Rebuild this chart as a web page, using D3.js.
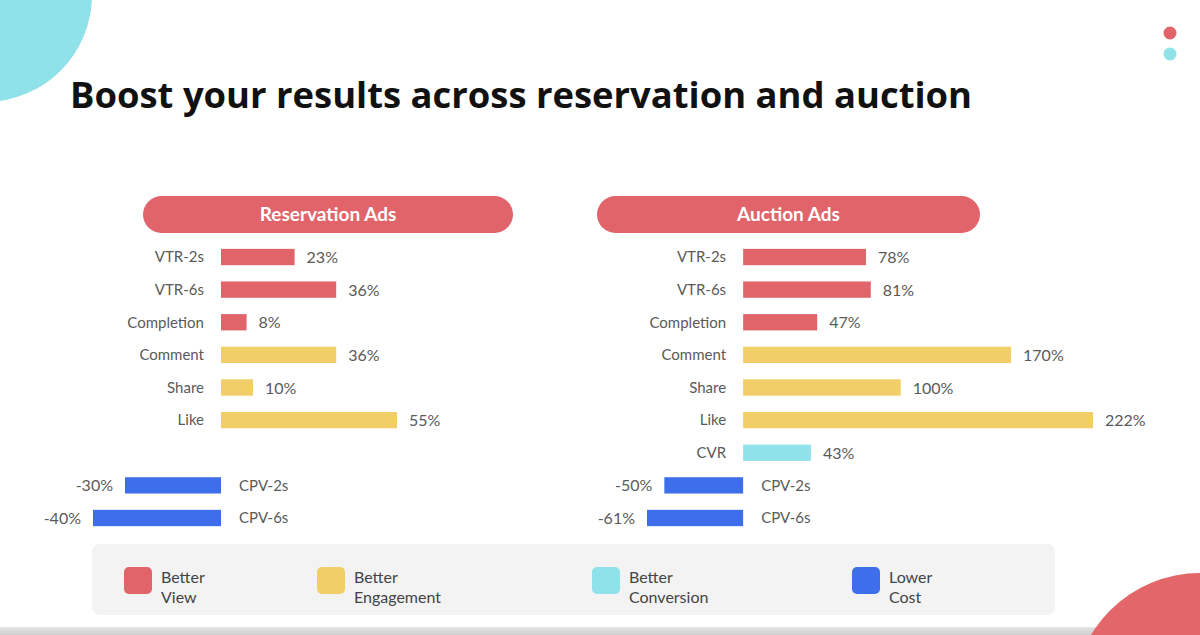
<!DOCTYPE html>
<html>
<head>
<meta charset="utf-8">
<script src="https://cdn.jsdelivr.net/npm/d3@7"></script>
<style>
  html, body { margin: 0; padding: 0; background: #ffffff; }
  svg { display: block; }
</style>
</head>
<body>
<svg id="chart" width="1200" height="635"></svg>
<script>
// ---- data ----
const categories = ["VTR-2s", "VTR-6s", "Completion", "Comment", "Share", "Like", "CVR", "CPV-2s", "CPV-6s"];
const categoryGroups = ["view", "view", "view", "engagement", "engagement", "engagement", "conversion", "cost", "cost"];
const reservationValues = [23, 36, 8, 36, 10, 55, null, -30, -40];
const auctionValues = [78, 81, 47, 170, 100, 222, 43, -50, -61];
const panelTitles = ["Reservation Ads", "Auction Ads"];
const legendKeys = ["view", "engagement", "conversion", "cost"];
const legendLine1 = ["Better", "Better", "Better", "Lower"];
const legendLine2 = ["View", "Engagement", "Conversion", "Cost"];
const titleText = "Boost your results across reservation and auction";

// ---- styles ----
const colors = { view: "#E0646A", engagement: "#F2CE68", conversion: "#8FE1EA", cost: "#3F6EEA" };
const labelFont = "Lato, 'Open Sans', sans-serif";

const svg = d3.select("#chart");

// decorative shapes
svg.append("circle").attr("cx", -15).attr("cy", -5).attr("r", 107).attr("fill", "#8FE1EA");
svg.append("circle").attr("cx", 1170).attr("cy", 33).attr("r", 6.5).attr("fill", "#E36468");
svg.append("circle").attr("cx", 1170).attr("cy", 54).attr("r", 6.5).attr("fill", "#8FE1EA");

// footer bar
const grad = svg.append("defs").append("linearGradient").attr("id", "foot").attr("x1", 0).attr("x2", 0).attr("y1", 0).attr("y2", 1);
grad.append("stop").attr("offset", "0%").attr("stop-color", "#e4e4e4");
grad.append("stop").attr("offset", "100%").attr("stop-color", "#cfcfcf");
svg.append("rect").attr("x", 0).attr("y", 627).attr("width", 1200).attr("height", 8).attr("fill", "url(#foot)");
svg.append("circle").attr("cx", 1200).attr("cy", 700).attr("r", 127).attr("fill", "#E3666A");

// title
const title = svg.append("text")
  .attr("x", 70).attr("y", 108)
  .attr("font-family", "'Open Sans', sans-serif")
  .attr("font-weight", 700)
  .attr("font-size", 35)
  .attr("fill", "#111")
  .text(titleText);
const tw = title.node().getComputedTextLength();
if (tw > 0) title.attr("textLength", 902).attr("lengthAdjust", "spacingAndGlyphs");

// y scale shared
const y = d3.scaleBand()
  .domain(categories)
  .range([240.7, 534.3])
  .paddingInner(0.5)
  .paddingOuter(0.25);

const panels = [
  { title: panelTitles[0], values: reservationValues,
    x: d3.scaleLinear().domain([-40, 55]).range([93, 397]),
    pill: [143, 513] },
  { title: panelTitles[1], values: auctionValues,
    x: d3.scaleLinear().domain([-61, 222]).range([647, 1093]),
    pill: [597, 980] }
];

const fmt = v => String(v) + "%";

panels.forEach(p => {
  const g = svg.append("g");
  // header pill
  g.append("rect")
    .attr("x", p.pill[0]).attr("y", 196)
    .attr("width", p.pill[1] - p.pill[0]).attr("height", 37)
    .attr("rx", 18.5).attr("fill", "#E0646A");
  g.append("text")
    .attr("x", (p.pill[0] + p.pill[1]) / 2).attr("y", 221)
    .attr("text-anchor", "middle")
    .attr("font-family", labelFont).attr("font-weight", 700)
    .attr("font-size", 19).attr("fill", "#fff")
    .text(p.title);

  const rows = categories.map((c, i) => ({ cat: c, group: categoryGroups[i], v: p.values[i] }))
    .filter(d => d.v !== null);
  const x0 = p.x(0);

  g.selectAll("rect.bar").data(rows).join("rect")
    .attr("class", "bar")
    .attr("x", d => Math.min(p.x(d.v), x0))
    .attr("width", d => Math.abs(p.x(d.v) - x0))
    .attr("y", d => y(d.cat))
    .attr("height", y.bandwidth())
    .attr("fill", d => colors[d.group]);

  g.selectAll("text.cat").data(rows).join("text")
    .attr("class", "cat")
    .attr("x", d => d.v >= 0 ? x0 - 17 : x0 + 18)
    .attr("y", d => y(d.cat) + y.bandwidth() / 2)
    .attr("dy", "0.35em")
    .attr("text-anchor", d => d.v >= 0 ? "end" : "start")
    .attr("font-family", labelFont).attr("font-size", 15)
    .attr("fill", "#5a5a5a")
    .text(d => d.cat);

  g.selectAll("text.val").data(rows).join("text")
    .attr("class", "val")
    .attr("x", d => d.v >= 0 ? p.x(d.v) + 12 : p.x(d.v) - 12)
    .attr("y", d => y(d.cat) + y.bandwidth() / 2)
    .attr("dy", "0.38em")
    .attr("text-anchor", d => d.v >= 0 ? "start" : "end")
    .attr("font-family", labelFont).attr("font-size", 16)
    .attr("fill", "#5a5a5a")
    .text(d => fmt(d.v));
});

// legend
svg.append("rect")
  .attr("x", 92).attr("y", 544).attr("width", 963).attr("height", 71)
  .attr("rx", 8).attr("fill", "#F3F3F3");
const legendX = [124, 317, 592, 852];
const lg = svg.selectAll("g.leg").data(legendKeys).join("g")
  .attr("class", "leg")
  .attr("transform", (d, i) => `translate(${legendX[i]},567)`);
lg.append("rect").attr("width", 28).attr("height", 27).attr("rx", 5)
  .attr("fill", d => colors[d]);
lg.append("text").attr("x", 37).attr("y", 16)
  .attr("font-family", labelFont).attr("font-size", 16).attr("fill", "#444")
  .text((d, i) => legendLine1[i]);
lg.append("text").attr("x", 37).attr("y", 36)
  .attr("font-family", labelFont).attr("font-size", 16).attr("fill", "#444")
  .text((d, i) => legendLine2[i]);
</script>
</body>
</html>
